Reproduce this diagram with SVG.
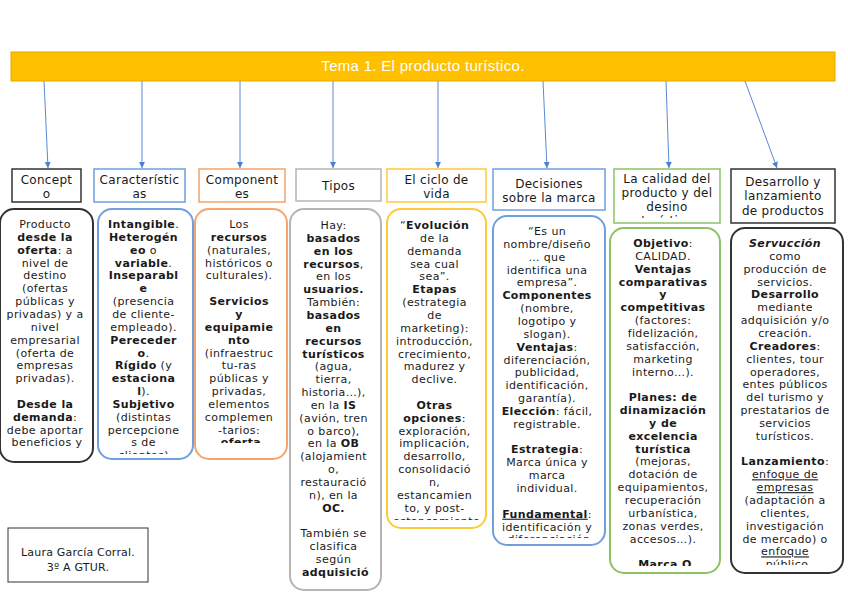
<svg xmlns="http://www.w3.org/2000/svg" width="848" height="599" viewBox="0 0 848 599">
<style>
.t{font-family:"DejaVu Sans","Liberation Sans",sans-serif;font-size:11px;fill:#1a1a1a;text-anchor:middle;letter-spacing:0.4px}
.b{font-weight:bold}
.u{text-decoration:underline}
.lb{font-family:"DejaVu Sans","Liberation Sans",sans-serif;font-size:12px;fill:#1a1a1a;text-anchor:middle;letter-spacing:0.3px}
.box{fill:#fff;stroke-width:2}
.lbox{fill:#fff;stroke-width:1.5}
.k{stroke:#333}.bl{stroke:#6F9FDD}.or{stroke:#F4A46C}.gr{stroke:#B4B4B4}.ye{stroke:#FFC93C}.gn{stroke:#8CC265}
.ar{stroke:#5A8AD6;stroke-width:1;fill:none;marker-end:url(#ah)}
</style>
<defs>
<marker id="ah" viewBox="0 0 10 10" refX="10" refY="5" markerWidth="6" markerHeight="6" orient="auto"><path d="M0,0 L10,5 L0,10 z" fill="#4A7FD4"/></marker>
<clipPath id="c1"><rect x="0" y="209" width="93" height="249"/></clipPath>
<clipPath id="c2"><rect x="98" y="209" width="95" height="245"/></clipPath>
<clipPath id="c3"><rect x="195" y="209" width="92" height="234"/></clipPath>
<clipPath id="c4"><rect x="290" y="209" width="91" height="378"/></clipPath>
<clipPath id="c5"><rect x="387" y="209" width="99" height="311"/></clipPath>
<clipPath id="c6"><rect x="493" y="216" width="112" height="322"/></clipPath>
<clipPath id="c7"><rect x="610" y="228" width="110" height="338"/></clipPath>
<clipPath id="c8"><rect x="731" y="228" width="112" height="337"/></clipPath>
<clipPath id="cl7"><rect x="614" y="169" width="106" height="49"/></clipPath>
</defs>
<rect width="848" height="599" fill="#fff"/>

<g id="header">
<rect x="11" y="52" width="824" height="29" fill="#FFC000" stroke="#E3AA00" stroke-width="1"/>
<text x="423" y="71" font-family="Liberation Sans, sans-serif" font-size="15" fill="#fff" text-anchor="middle" letter-spacing="0.3">Tema 1. El producto turístico.</text>
</g>

<g id="connectors">
<line class="ar" x1="44" y1="81" x2="48" y2="168"/>
<line class="ar" x1="142" y1="81" x2="142" y2="168"/>
<line class="ar" x1="240" y1="81" x2="240" y2="168"/>
<line class="ar" x1="333" y1="81" x2="333" y2="168"/>
<line class="ar" x1="438" y1="81" x2="438" y2="168"/>
<line class="ar" x1="543" y1="81" x2="547" y2="168"/>
<line class="ar" x1="666" y1="81" x2="669" y2="168"/>
<line class="ar" x1="745" y1="81" x2="777" y2="168"/>
</g>

<g id="label-concepto">
<rect class="lbox k" x="12" y="169" width="69" height="33"/>
<text class="lb"><tspan x="46.5" y="184">Concept</tspan><tspan x="46.5" y="198">o</tspan></text>
</g>
<g id="label-caracteristicas">
<rect class="lbox bl" x="94" y="169" width="91" height="33"/>
<text class="lb"><tspan x="139.5" y="184">Característic</tspan><tspan x="139.5" y="198">as</tspan></text>
</g>
<g id="label-componentes">
<rect class="lbox or" x="199" y="169" width="86" height="33"/>
<text class="lb"><tspan x="242" y="184">Component</tspan><tspan x="242" y="198">es</tspan></text>
</g>
<g id="label-tipos">
<rect class="lbox gr" x="296" y="169" width="85" height="32"/>
<text class="lb" x="338.5" y="190">Tipos</text>
</g>
<g id="label-ciclo">
<rect class="lbox ye" x="387" y="169" width="99" height="33"/>
<text class="lb"><tspan x="436.5" y="184">El ciclo de</tspan><tspan x="436.5" y="198">vida</tspan></text>
</g>
<g id="label-marca">
<rect class="lbox bl" x="493" y="169" width="112" height="41"/>
<text class="lb"><tspan x="549" y="188">Decisiones</tspan><tspan x="549" y="202">sobre la marca</tspan></text>
</g>
<g id="label-calidad">
<rect class="lbox gn" x="614" y="169" width="106" height="54"/>
<text class="lb" clip-path="url(#cl7)"><tspan x="667" y="183">La calidad del</tspan><tspan x="667" y="197">producto y del</tspan><tspan x="667" y="211">desino</tspan><tspan x="667" y="225">turístico</tspan></text>
</g>
<g id="label-desarrollo">
<rect class="lbox k" x="731" y="169" width="104" height="54"/>
<text class="lb"><tspan x="783" y="186">Desarrollo y</tspan><tspan x="783" y="200">lanzamiento</tspan><tspan x="783" y="215">de productos</tspan></text>
</g>

<g id="box-concepto">
<rect class="box k" x="0" y="209" width="93" height="253" rx="14"/>
<text class="t" clip-path="url(#c1)">
<tspan x="47" y="228">Producto</tspan>
<tspan x="47" dy="12.85" class="b">desde la</tspan>
<tspan x="47" dy="12.85"><tspan class="b">oferta</tspan>: a</tspan>
<tspan x="47" dy="12.85">nivel de</tspan>
<tspan x="47" dy="12.85">destino</tspan>
<tspan x="47" dy="12.85">(ofertas</tspan>
<tspan x="47" dy="12.85">públicas y</tspan>
<tspan x="47" dy="12.85">privadas) y a</tspan>
<tspan x="47" dy="12.85">nivel</tspan>
<tspan x="47" dy="12.85">empresarial</tspan>
<tspan x="47" dy="12.85">(oferta de</tspan>
<tspan x="47" dy="12.85">empresas</tspan>
<tspan x="47" dy="12.85">privadas).</tspan>
<tspan x="47" dy="25.7" class="b">Desde la</tspan>
<tspan x="47" dy="12.85"><tspan class="b">demanda</tspan>:</tspan>
<tspan x="47" dy="12.85">debe aportar</tspan>
<tspan x="47" dy="12.85">beneficios y</tspan>
</text>
</g>

<g id="box-caracteristicas">
<rect class="box bl" x="98" y="209" width="95" height="250" rx="14"/>
<text class="t" clip-path="url(#c2)">
<tspan x="145.5" y="228"><tspan class="b">Intangible</tspan>.</tspan>
<tspan x="145.5" dy="12.85" class="b">Heterogén</tspan>
<tspan x="145.5" dy="12.85"><tspan class="b">eo</tspan> o</tspan>
<tspan x="145.5" dy="12.85"><tspan class="b">variable</tspan>.</tspan>
<tspan x="145.5" dy="12.85" class="b">Inseparabl</tspan>
<tspan x="145.5" dy="12.85" class="b">e</tspan>
<tspan x="145.5" dy="12.85">(presencia</tspan>
<tspan x="145.5" dy="12.85">de cliente-</tspan>
<tspan x="145.5" dy="12.85">empleado).</tspan>
<tspan x="145.5" dy="12.85" class="b">Pereceder</tspan>
<tspan x="145.5" dy="12.85"><tspan class="b">o</tspan>.</tspan>
<tspan x="145.5" dy="12.85"><tspan class="b">Rígido</tspan> (y</tspan>
<tspan x="145.5" dy="12.85" class="b">estaciona</tspan>
<tspan x="145.5" dy="12.85"><tspan class="b">l</tspan>).</tspan>
<tspan x="145.5" dy="12.85" class="b">Subjetivo</tspan>
<tspan x="145.5" dy="12.85">(distintas</tspan>
<tspan x="145.5" dy="12.85">percepcione</tspan>
<tspan x="145.5" dy="12.85">s de</tspan>
<tspan x="145.5" dy="12.85">clientes).</tspan>
</text>
</g>

<g id="box-componentes">
<rect class="box or" x="195" y="209" width="92" height="250" rx="14"/>
<text class="t" clip-path="url(#c3)">
<tspan x="241" y="228">Los</tspan>
<tspan x="241" dy="12.85" class="b">recursos</tspan>
<tspan x="241" dy="12.85">(naturales,</tspan>
<tspan x="241" dy="12.85">históricos o</tspan>
<tspan x="241" dy="12.85">culturales).</tspan>
<tspan x="241" dy="25.7" class="b">Servicios</tspan>
<tspan x="241" dy="12.85" class="b">y</tspan>
<tspan x="241" dy="12.85" class="b">equipamie</tspan>
<tspan x="241" dy="12.85" class="b">nto</tspan>
<tspan x="241" dy="12.85">(infraestruc</tspan>
<tspan x="241" dy="12.85">tu-ras</tspan>
<tspan x="241" dy="12.85">públicas y</tspan>
<tspan x="241" dy="12.85">privadas,</tspan>
<tspan x="241" dy="12.85">elementos</tspan>
<tspan x="241" dy="12.85">complemen</tspan>
<tspan x="241" dy="12.85">-tarios:</tspan>
<tspan x="241" dy="12.85" class="b">oferta</tspan>
</text>
</g>

<g id="box-tipos">
<rect class="box gr" x="290" y="209" width="91" height="381" rx="14"/>
<text class="t" clip-path="url(#c4)">
<tspan x="335.5" y="229">Hay:</tspan>
<tspan x="335.5" dy="12.85" class="b">basados</tspan>
<tspan x="335.5" dy="12.85" class="b">en los</tspan>
<tspan x="335.5" dy="12.85"><tspan class="b">recursos</tspan>,</tspan>
<tspan x="335.5" dy="12.85">en los</tspan>
<tspan x="335.5" dy="12.85" class="b">usuarios.</tspan>
<tspan x="335.5" dy="12.85">También:</tspan>
<tspan x="335.5" dy="12.85" class="b">basados</tspan>
<tspan x="335.5" dy="12.85" class="b">en</tspan>
<tspan x="335.5" dy="12.85" class="b">recursos</tspan>
<tspan x="335.5" dy="12.85" class="b">turísticos</tspan>
<tspan x="335.5" dy="12.85">(agua,</tspan>
<tspan x="335.5" dy="12.85">tierra,</tspan>
<tspan x="335.5" dy="12.85">historia…),</tspan>
<tspan x="335.5" dy="12.85">en la <tspan class="b">IS</tspan></tspan>
<tspan x="335.5" dy="12.85">(avión, tren</tspan>
<tspan x="335.5" dy="12.85">o barco),</tspan>
<tspan x="335.5" dy="12.85">en la <tspan class="b">OB</tspan></tspan>
<tspan x="335.5" dy="12.85">(alojamient</tspan>
<tspan x="335.5" dy="12.85">o,</tspan>
<tspan x="335.5" dy="12.85">restauració</tspan>
<tspan x="335.5" dy="12.85">n), en la</tspan>
<tspan x="335.5" dy="12.85" class="b">OC.</tspan>
<tspan x="335.5" dy="25.7">También se</tspan>
<tspan x="335.5" dy="12.85">clasifica</tspan>
<tspan x="335.5" dy="12.85">según</tspan>
<tspan x="335.5" dy="12.85" class="b">adquisició</tspan>
</text>
</g>

<g id="box-ciclo">
<rect class="box ye" x="387" y="209" width="99" height="319" rx="14"/>
<text class="t" clip-path="url(#c5)">
<tspan x="436.5" y="229">“<tspan class="b">Evolución</tspan></tspan>
<tspan x="436.5" dy="12.85">de la</tspan>
<tspan x="436.5" dy="12.85">demanda</tspan>
<tspan x="436.5" dy="12.85">sea cual</tspan>
<tspan x="436.5" dy="12.85">sea”.</tspan>
<tspan x="436.5" dy="12.85" class="b">Etapas</tspan>
<tspan x="436.5" dy="12.85">(estrategia</tspan>
<tspan x="436.5" dy="12.85">de</tspan>
<tspan x="436.5" dy="12.85">marketing):</tspan>
<tspan x="436.5" dy="12.85">introducción,</tspan>
<tspan x="436.5" dy="12.85">crecimiento,</tspan>
<tspan x="436.5" dy="12.85">madurez y</tspan>
<tspan x="436.5" dy="12.85">declive.</tspan>
<tspan x="436.5" dy="25.7" class="b">Otras</tspan>
<tspan x="436.5" dy="12.85"><tspan class="b">opciones</tspan>:</tspan>
<tspan x="436.5" dy="12.85">exploración,</tspan>
<tspan x="436.5" dy="12.85">implicación,</tspan>
<tspan x="436.5" dy="12.85">desarrollo,</tspan>
<tspan x="436.5" dy="12.85">consolidació</tspan>
<tspan x="436.5" dy="12.85">n,</tspan>
<tspan x="436.5" dy="12.85">estancamien</tspan>
<tspan x="436.5" dy="12.85">to, y post-</tspan>
<tspan x="436.5" dy="12.85">estancamiento</tspan>
</text>
</g>

<g id="box-marca">
<rect class="box bl" x="493" y="216" width="112" height="329" rx="14"/>
<text class="t" clip-path="url(#c6)">
<tspan x="549" y="235">“Es un</tspan>
<tspan x="549" dy="12.85">nombre/diseño</tspan>
<tspan x="549" dy="12.85">… que</tspan>
<tspan x="549" dy="12.85">identifica una</tspan>
<tspan x="549" dy="12.85">empresa”.</tspan>
<tspan x="549" dy="12.85" class="b">Componentes</tspan>
<tspan x="549" dy="12.85">(nombre,</tspan>
<tspan x="549" dy="12.85">logotipo y</tspan>
<tspan x="549" dy="12.85">slogan).</tspan>
<tspan x="549" dy="12.85"><tspan class="b">Ventajas</tspan>:</tspan>
<tspan x="549" dy="12.85">diferenciación,</tspan>
<tspan x="549" dy="12.85">publicidad,</tspan>
<tspan x="549" dy="12.85">identificación,</tspan>
<tspan x="549" dy="12.85">garantía).</tspan>
<tspan x="549" dy="12.85"><tspan class="b">Elección</tspan>: fácil,</tspan>
<tspan x="549" dy="12.85">registrable.</tspan>
<tspan x="549" dy="25.7"><tspan class="b">Estrategia</tspan>:</tspan>
<tspan x="549" dy="12.85">Marca única y</tspan>
<tspan x="549" dy="12.85">marca</tspan>
<tspan x="549" dy="12.85">individual.</tspan>
<tspan x="549" dy="25.7"><tspan class="b u">Fundamental</tspan>:</tspan>
<tspan x="549" dy="12.85">identificación y</tspan>
<tspan x="549" dy="12.85">diferenciación</tspan>
</text>
</g>

<g id="box-calidad">
<rect class="box gn" x="610" y="228" width="110" height="345" rx="14"/>
<text class="t" clip-path="url(#c7)">
<tspan x="665" y="247"><tspan class="b">Objetivo</tspan>:</tspan>
<tspan x="665" dy="12.85">CALIDAD.</tspan>
<tspan x="665" dy="12.85" class="b">Ventajas</tspan>
<tspan x="665" dy="12.85" class="b">comparativas</tspan>
<tspan x="665" dy="12.85" class="b">y</tspan>
<tspan x="665" dy="12.85" class="b">competitivas</tspan>
<tspan x="665" dy="12.85">(factores:</tspan>
<tspan x="665" dy="12.85">fidelización,</tspan>
<tspan x="665" dy="12.85">satisfacción,</tspan>
<tspan x="665" dy="12.85">marketing</tspan>
<tspan x="665" dy="12.85">interno…).</tspan>
<tspan x="665" dy="25.7" class="b">Planes: de</tspan>
<tspan x="665" dy="12.85" class="b">dinamización</tspan>
<tspan x="665" dy="12.85" class="b">y de</tspan>
<tspan x="665" dy="12.85" class="b">excelencia</tspan>
<tspan x="665" dy="12.85" class="b">turística</tspan>
<tspan x="665" dy="12.85">(mejoras,</tspan>
<tspan x="665" dy="12.85">dotación de</tspan>
<tspan x="665" dy="12.85">equipamientos,</tspan>
<tspan x="665" dy="12.85">recuperación</tspan>
<tspan x="665" dy="12.85">urbanística,</tspan>
<tspan x="665" dy="12.85">zonas verdes,</tspan>
<tspan x="665" dy="12.85">accesos…).</tspan>
<tspan x="665" dy="25.7" class="b">Marca Q</tspan>
</text>
</g>

<g id="box-desarrollo">
<rect class="box k" x="731" y="228" width="112" height="345" rx="14"/>
<text class="t" clip-path="url(#c8)">
<tspan x="787" y="247" class="b" font-style="italic">Servucción</tspan>
<tspan x="787" dy="12.85">como</tspan>
<tspan x="787" dy="12.85">producción de</tspan>
<tspan x="787" dy="12.85">servicios.</tspan>
<tspan x="787" dy="12.85" class="b">Desarrollo</tspan>
<tspan x="787" dy="12.85">mediante</tspan>
<tspan x="787" dy="12.85">adquisición y/o</tspan>
<tspan x="787" dy="12.85">creación.</tspan>
<tspan x="787" dy="12.85"><tspan class="b">Creadores</tspan>:</tspan>
<tspan x="787" dy="12.85">clientes, tour</tspan>
<tspan x="787" dy="12.85">operadores,</tspan>
<tspan x="787" dy="12.85">entes públicos</tspan>
<tspan x="787" dy="12.85">del turismo y</tspan>
<tspan x="787" dy="12.85">prestatarios de</tspan>
<tspan x="787" dy="12.85">servicios</tspan>
<tspan x="787" dy="12.85">turísticos.</tspan>
<tspan x="787" dy="25.7"><tspan class="b">Lanzamiento</tspan>:</tspan>
<tspan x="787" dy="12.85" class="u">enfoque de</tspan>
<tspan x="787" dy="12.85" class="u">empresas</tspan>
<tspan x="787" dy="12.85">(adaptación a</tspan>
<tspan x="787" dy="12.85">clientes,</tspan>
<tspan x="787" dy="12.85">investigación</tspan>
<tspan x="787" dy="12.85">de mercado) o</tspan>
<tspan x="787" dy="12.85" class="u">enfoque</tspan>
<tspan x="787" dy="12.85" class="u">público</tspan>
</text>
</g>

<g id="author">
<rect x="8" y="528" width="140" height="54" fill="#fff" stroke="#333" stroke-width="1"/>
<text class="t" style="letter-spacing:0.2px"><tspan x="78" y="556">Laura García Corral.</tspan><tspan x="78" y="571">3º A GTUR.</tspan></text>
</g>
</svg>
